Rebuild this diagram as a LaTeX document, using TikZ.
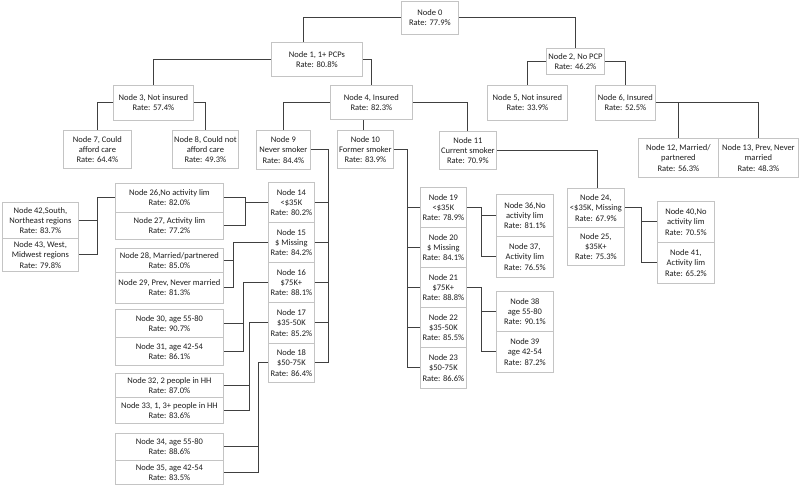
\documentclass[tikz,border=0pt]{standalone}
\usepackage{fontspec}
\setmainfont{Carlito}
\definecolor{boxgray}{HTML}{C4C4C4}
\definecolor{linegray}{HTML}{404040}
\definecolor{textc}{HTML}{1E1E1E}
\tikzset{
  box/.style={draw=boxgray, fill=white, line width=0.8pt, inner sep=0pt, align=center,
    anchor=north west, text=textc, font=\fontsize{8.5}{10.2}\selectfont},
  conn/.style={draw=linegray, line width=0.9pt}
}
\newcommand{\mybox}[6]{\node[box, minimum width={#4pt-#2pt}, minimum height={#5pt-#3pt}] (#1) at (#2,#3) {#6};}
\begin{document}
\begin{tikzpicture}[x=1pt,y=-1pt]
\useasboundingbox[fill=white] (0,0) rectangle (800,485);
% boxes
\mybox{n0}{401}{1}{458}{34}{Node 0\\Rate: 77.9\%}
\mybox{n1}{271}{42}{362}{76}{Node 1, 1+ PCPs\\Rate: 80.8\%}
\mybox{n2}{546}{48}{604}{74}{Node 2, No PCP\\Rate: 46.2\%}
\mybox{n3}{113}{85}{193}{120}{Node 3, Not insured\\Rate: 57.4\%}
\mybox{n4}{330}{85}{412}{119}{Node 4, Insured\\Rate: 82.3\%}
\mybox{n5}{487}{85}{567}{120}{Node 5, Not insured\\Rate: 33.9\%}
\mybox{n6}{595}{85}{655}{120}{Node 6, Insured\\Rate: 52.5\%}
\mybox{n7}{63}{130}{131}{168}{Node 7, Could\\afford care\\Rate: 64.4\%}
\mybox{n8}{172}{130}{238}{168}{Node 8, Could not\\afford care\\Rate: 49.3\%}
\mybox{n9}{256}{130}{310}{169}{Node 9\\Never smoker\\Rate: 84.4\%}
\mybox{n10}{337}{130}{393}{168}{Node 10\\Former smoker\\Rate: 83.9\%}
\mybox{n11}{439}{131}{496}{169}{Node 11\\Current smoker\\Rate: 70.9\%}
\mybox{n12}{638}{138}{718}{177}{Node 12, Married/\\partnered\\Rate: 56.3\%}
\mybox{n13}{718}{138}{798}{177}{Node 13, Prev, Never\\married\\Rate: 48.3\%}
\mybox{n14}{268}{182}{314}{222}{Node 14\\<\$35K\\Rate: 80.2\%}
\mybox{n15}{268}{222}{314}{262}{Node 15\\\$ Missing\\Rate: 84.2\%}
\mybox{n16}{268}{262}{314}{302}{Node 16\\\$75K+\\Rate: 88.1\%}
\mybox{n17}{268}{302}{314}{343}{Node 17\\\$35-50K\\Rate: 85.2\%}
\mybox{n18}{268}{343}{314}{382}{Node 18\\\$50-75K\\Rate: 86.4\%}
\mybox{n19}{420}{187}{466}{227}{Node 19\\<\$35K\\Rate: 78.9\%}
\mybox{n20}{420}{227}{466}{267}{Node 20\\\$ Missing\\Rate: 84.1\%}
\mybox{n21}{420}{267}{466}{307}{Node 21\\\$75K+\\Rate: 88.8\%}
\mybox{n22}{420}{307}{466}{347}{Node 22\\\$35-50K\\Rate: 85.5\%}
\mybox{n23}{420}{347}{466}{388}{Node 23\\\$50-75K\\Rate: 86.6\%}
\mybox{n24}{567}{188}{624}{227}{Node 24,\\<\$35K, Missing\\Rate: 67.9\%}
\mybox{n25}{567}{227}{624}{265}{Node 25,\\\$35K+\\Rate: 75.3\%}
\mybox{n26}{115}{183}{223}{212}{Node 26,No activity lim\\Rate: 82.0\%}
\mybox{n27}{115}{212}{223}{239}{Node 27, Activity lim\\Rate: 77.2\%}
\mybox{n28}{115}{248}{223}{272}{Node 28, Married/partnered\\Rate: 85.0\%}
\mybox{n29}{115}{272}{223}{303}{Node 29, Prev, Never married\\Rate: 81.3\%}
\mybox{n30}{115}{309}{223}{337}{Node 30, age 55-80\\Rate: 90.7\%}
\mybox{n31}{115}{337}{223}{365}{Node 31, age 42-54\\Rate: 86.1\%}
\mybox{n32}{115}{373}{223}{397}{Node 32, 2 people in HH\\Rate: 87.0\%}
\mybox{n33}{115}{397}{223}{423}{Node 33, 1, 3+ people in HH\\Rate: 83.6\%}
\mybox{n34}{115}{433}{223}{460}{Node 34, age 55-80\\Rate: 88.6\%}
\mybox{n35}{115}{460}{223}{484}{Node 35, age 42-54\\Rate: 83.5\%}
\mybox{n36}{496}{194}{553}{236}{Node 36,No\\activity lim\\Rate: 81.1\%}
\mybox{n37}{496}{236}{553}{277}{Node 37,\\Activity lim\\Rate: 76.5\%}
\mybox{n38}{496}{291}{553}{331}{Node 38\\age 55-80\\Rate: 90.1\%}
\mybox{n39}{496}{331}{553}{372}{Node 39\\age 42-54\\Rate: 87.2\%}
\mybox{n40}{657}{201}{714}{242}{Node 40,No\\activity lim\\Rate: 70.5\%}
\mybox{n41}{657}{242}{714}{283}{Node 41,\\Activity lim\\Rate: 65.2\%}
\mybox{n42}{2}{202}{78}{238}{Node 42,South,\\Northeast regions\\Rate: 83.7\%}
\mybox{n43}{2}{238}{78}{271}{Node 43, West,\\Midwest regions\\Rate: 79.8\%}
% connectors
\draw[conn] (n0.west) -| ([xshift=-13.5pt]n1.north);
\draw[conn] (n0.east) -| (n2.north);
\draw[conn] (n1.west) -| (n3.north);
\draw[conn] (n1.east) -| (n4.north);
\draw[conn] (n2.west) -| (n5.north);
\draw[conn] (n2.east) -| (n6.north);
\draw[conn] (n3.west) -| (n7.north);
\draw[conn] (n3.east) -| (n8.north);
\draw[conn] (n4.west) -| (n9.north);
\draw[conn] ([xshift=-2pt]n10.north) -- ([xshift=-2pt]n10.north |- n4.south);
\draw[conn] (n4.east) -| (n11.north);
\draw[conn] (n6.east) -| (n12.north);
\draw[conn] (n6.east) -| (n13.north);
\draw[conn] (n11.east) -| ([xshift=1.5pt]n24.north);
% node 9 -> 14..18
\draw[conn] (n9.east) -| ([xshift=14pt]n18.east) -- (n18.east);
\foreach \c in {n14,n15,n16,n17} \draw[conn] (\c.east) -- ++(14,0);
% node 10 -> 19..23
\draw[conn] (n10.east) -| ([xshift=-13pt]n23.west) -- (n23.west);
\foreach \c in {n19,n20,n21,n22} \draw[conn] (\c.west) -- ++(-13,0);
% node 14 -> 26,27
\draw[conn] (n26.east) -| ([xshift=22pt]n27.east) -- (n27.east);
\draw[conn] (n14.west) -- ([xshift=22pt]n27.east |- n14.west);
% node 26 -> 42,43
\draw[conn] (n26.west) -| ([xshift=19pt]n43.east) -- (n43.east);
\draw[conn] (n42.east) -- ++(19,0);
% node 15 -> 28,29
\draw[conn] (n15.west) -| ([xshift=10pt]n29.east) -- (n29.east);
\draw[conn] (n28.east) -- ++(10,0);
% node 16 -> 30,31
\draw[conn] (n16.west) -| ([xshift=20pt]n31.east) -- (n31.east);
\draw[conn] (n30.east) -- ++(20,0);
% node 17 -> 32,33
\draw[conn] (n17.west) -| ([xshift=26pt]n33.east) -- (n33.east);
\draw[conn] (n32.east) -- ++(26,0);
% node 18 -> 34,35
\draw[conn] (n18.west) -| ([xshift=35pt]n35.east) -- (n35.east);
\draw[conn] (n34.east) -- ++(35,0);
% node 19 -> 36,37
\draw[conn] (n19.east) -| ([xshift=-15pt]n37.west) -- (n37.west);
\draw[conn] (n36.west) -- ++(-15,0);
% node 21 -> 38,39
\draw[conn] (n21.east) -| ([xshift=-15pt]n39.west) -- (n39.west);
\draw[conn] (n38.west) -- ++(-15,0);
% node 24 -> 40,41
\draw[conn] (n24.east) -| ([xshift=-16pt]n41.west) -- (n41.west);
\draw[conn] (n40.west) -- ++(-16,0);
\end{tikzpicture}
\end{document}
